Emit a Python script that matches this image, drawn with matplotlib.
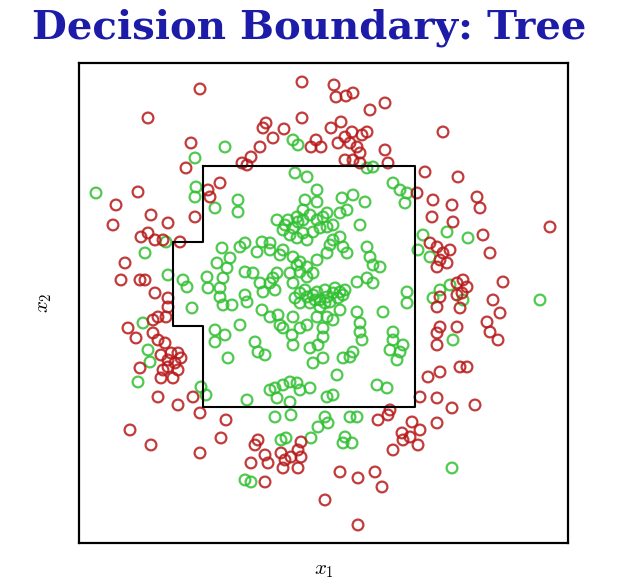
import matplotlib
matplotlib.use("Agg")
import matplotlib.pyplot as plt
import numpy as np

plt.rcParams['mathtext.fontset'] = 'cm'

# class "red" observations (x1, x2)
red_x1 = [121,223,255,257,267,274,69,112,187,184,205,223,252,262,237,242,232,259,266,273,283,288,271,278,281,274,266,281,291,306,306,309,364,181,172,163,168,194,107,
          59,37,34,72,89,116,141,129,131,62,69,76,84,101,46,42,61,66,76,89,89,87,79,49,57,74,74,79,86,92,99,102,96,89,84,99,82,89,61,82,94,79,99,114,
          121,51,72,121,147,142,179,176,172,189,186,202,206,212,219,222,219,204,222,186,246,261,279,296,303,279,311,309,299,333,341,323,324,339,331,314,341,358,373,358,396,
          346,379,338,354,398,401,373,374,353,404,471,351,358,364,371,368,358,361,411,424,384,388,378,414,361,378,383,358,381,421,408,411,419,358,361,358,378,381,388,349,361]
red_x2 = [454,461,458,446,447,450,425,400,420,415,414,425,415,421,403,396,396,400,406,411,408,411,400,396,390,383,383,380,433,440,393,380,411,396,386,380,378,405,375,
          351,338,318,328,320,326,360,353,346,306,310,303,303,301,280,263,263,263,250,245,236,226,226,215,205,223,210,203,200,190,190,185,180,176,173,173,188,183,175,165,165,146,138,146,
          130,113,98,90,123,105,103,98,80,80,88,90,83,86,93,86,75,75,101,61,43,71,65,71,56,18,133,128,123,121,113,110,103,98,106,93,146,145,135,120,138,
          371,366,350,343,346,335,338,321,326,308,316,300,296,290,293,280,276,283,290,261,263,256,260,243,246,248,250,236,235,230,221,211,203,210,216,198,216,176,176,166,171]

# class "green" observations (x1, x2)
green_x1 = [146,214,219,116,17,288,294,
            117,116,87,66,89,64,69,71,59,122,127,
            202,207,166,172,239,249,271,266,273,264,196,212,246,373,232,
            368,389,344,339,351,371,361,461,354,384,374,
            136,159,159,216,228,238,238,226,224,263,274,286,268,261,314,321,328,326,
            161,166,183,191,198,209,218,224,231,238,244,248,204,211,218,224,228,234,241,248,254,261,254,264,268,281,
            143,151,138,166,178,191,201,204,214,221,218,228,221,238,248,251,288,291,294,301,148,
            104,108,128,129,144,141,113,141,144,153,168,166,161,136,146,136,149,176,179,186,174,181,184,191,196,194,
            183,191,199,201,204,198,211,214,228,234,221,228,234,241,248,254,261,266,231,241,251,221,214,221,228,238,244,248,254,261,
            213,214,231,239,244,234,244,258,264,271,274,278,281,281,283,278,288,294,304,314,314,311,321,324,318,328,328,
            196,204,211,218,221,231,211,198,191,168,248,254,278,298,308,
            226,238,246,256,264,236,246,259,216,206,214,219]
green_x2 = [396,403,398,385,350,375,376,
            356,346,301,290,268,220,193,181,161,156,148,
            103,105,63,61,116,120,126,106,100,100,126,128,126,75,105,
            311,305,308,293,286,258,253,243,245,243,203,
            335,343,331,370,366,353,341,343,333,345,348,341,333,330,360,353,350,340,
            296,300,301,300,323,323,326,323,328,323,326,330,313,308,305,310,303,311,315,316,318,306,303,296,290,318,
            295,285,280,271,291,293,288,293,286,281,278,276,271,283,290,298,296,286,278,276,275,
            263,256,266,255,265,255,235,246,238,238,241,248,218,213,208,201,185,201,191,188,270,260,251,260,253,265,
            233,226,228,218,215,270,270,260,266,270,250,246,248,243,246,250,251,253,240,236,241,240,226,215,218,226,215,226,223,233,
            208,198,195,198,206,180,185,168,185,186,191,231,220,211,203,261,265,260,231,211,203,193,191,198,183,251,240,
            155,158,161,160,153,155,141,145,153,143,146,148,126,158,155,
            253,251,253,255,248,243,240,245,245,318,315,321]

# tree decision boundary (region classified green)
bound_x1 = [124, 336, 336, 124, 124, 94, 94, 124, 124]
bound_x2 = [377, 377, 136, 136, 217, 217, 301, 301, 377]

fig = plt.figure(figsize=(6.25, 5.87), dpi=100)
ax = fig.add_axes([0.1264, 0.0750, 0.7824, 0.8177])

ax.scatter(green_x1, green_x2, s=60, facecolors='none', edgecolors='#30c030', linewidths=1.6, alpha=0.85)
ax.scatter(red_x1, red_x2, s=60, facecolors='none', edgecolors='#b81818', linewidths=1.6, alpha=0.85)
ax.plot(bound_x1, bound_x2, color='black', lw=1.5)

ax.set_xlim(0, 489)
ax.set_ylim(0, 480)
ax.set_xticks([])
ax.set_yticks([])
for sp in ax.spines.values():
    sp.set_linewidth(1.6)
ax.set_xlabel(r'$x_1$', fontsize=15, labelpad=12)
ax.set_ylabel(r'$x_2$', fontsize=15, labelpad=18)

fig.text(0.495, 0.952, 'Decision Boundary: Tree', ha='center', va='center',
         fontsize=29, fontweight='bold', family='DejaVu Serif', color='#1c1ca8')

fig.savefig('out.png', dpi=100)
